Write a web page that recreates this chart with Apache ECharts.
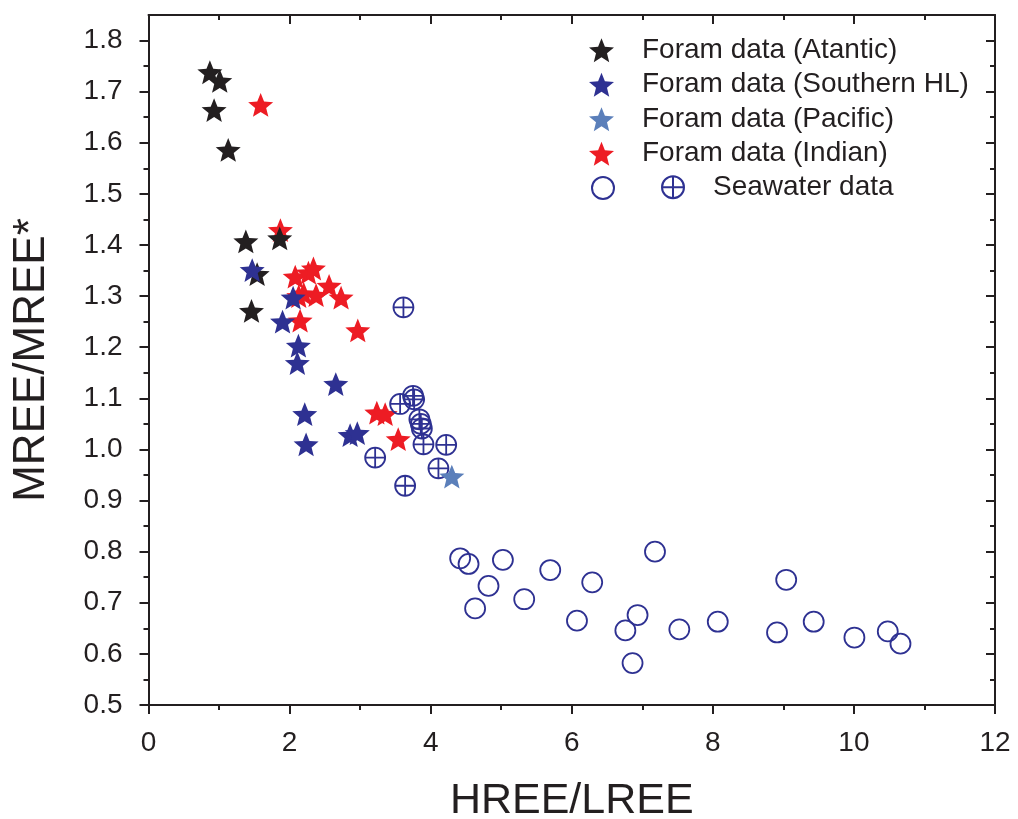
<!DOCTYPE html>
<html>
<head>
<meta charset="utf-8">
<script src="https://cdn.jsdelivr.net/npm/echarts@6/dist/echarts.min.js"></script>
<style>
html,body{margin:0;padding:0;background:#fff;overflow:hidden;}
#chart{width:1018px;height:819px;}
</style>
</head>
<body>
<div id="chart"></div>
<script>
// ---- data ----
const atlanticX = [0.87, 1.01, 0.93, 1.13, 1.38, 1.86, 1.54, 1.46];
const atlanticY = [1.738, 1.721, 1.664, 1.586, 1.407, 1.413, 1.343, 1.271];

const southernX = [1.47, 2.05, 1.90, 2.125, 2.11, 2.655, 2.215, 2.234, 2.858, 2.96];
const southernY = [1.351, 1.297, 1.250, 1.203, 1.169, 1.128, 1.069, 1.010, 1.028, 1.032];

const pacificX = [4.30];
const pacificY = [0.947];

const indianX = [1.59, 1.87, 2.08, 2.267, 2.338, 2.56, 2.73, 2.376, 2.13, 2.20, 2.149, 2.967, 3.237, 3.355, 3.54];
const indianY = [1.674, 1.429, 1.338, 1.346, 1.354, 1.320, 1.297, 1.302, 1.300, 1.305, 1.252, 1.233, 1.072, 1.069, 1.020];

const swCrossX = [3.614, 3.75, 3.766, 3.567, 3.84, 3.86, 3.875, 3.898, 4.22, 4.11, 3.213, 3.638];
const swCrossY = [1.278, 1.105, 1.098, 1.089, 1.059, 1.050, 1.041, 1.010, 1.009, 0.963, 0.984, 0.929];

const swOpenX = [4.418, 4.537, 5.024, 4.82, 4.63, 5.326, 5.695, 6.29, 6.074, 7.18, 6.933, 6.76, 6.862, 7.525, 8.07, 9.04, 8.91, 9.43, 10.007, 10.48, 10.66];
const swOpenY = [0.787, 0.776, 0.784, 0.733, 0.689, 0.707, 0.764, 0.740, 0.665, 0.800, 0.676, 0.646, 0.582, 0.648, 0.663, 0.745, 0.642, 0.663, 0.632, 0.644, 0.620];

const yMajorTicks = [0.5, 0.6, 0.7, 0.8, 0.9, 1.0, 1.1, 1.2, 1.3, 1.4, 1.5, 1.6, 1.7, 1.8];
const yMinorTicks = [0.55, 0.65, 0.75, 0.85, 0.95, 1.05, 1.15, 1.25, 1.35, 1.45, 1.55, 1.65, 1.75];

const names = {
  atl: 'Foram data (Atantic)',
  sou: 'Foram data (Southern HL)',
  pac: 'Foram data (Pacific)',
  ind: 'Foram data (Indian)',
  swOpen: 'Seawater open',
  swCross: 'Seawater data'
};

// ---- styling ----
const FONT = '"Liberation Sans", Arial, Helvetica, sans-serif';
const TXT = '#231f20';
const STAR = 'path://M50,0 L62.93,32.2 L97.55,34.55 L70.92,56.8 L79.39,90.45 L50,72 L20.61,90.45 L29.08,56.8 L2.45,34.55 L37.07,32.2 Z';
const CROSS = 'path://M0,10 A10,10 0 1,0 20,10 A10,10 0 1,0 0,10 Z M0,10 L20,10 M10,0 L10,20';
const C_ATL = '#231f20', C_SOU = '#2e3192', C_PAC = '#5b7fba', C_IND = '#ed1c24', C_SW = '#2e3192';

function zip(xs, ys) { return xs.map((x, i) => [x, ys[i]]); }

function starSeries(name, xs, ys, color) {
  return {
    type: 'scatter', name: name, data: zip(xs, ys),
    symbol: STAR, symbolSize: 25, symbolKeepAspect: true,
    itemStyle: { color: color, opacity: 1 },
    emphasis: { disabled: true }, silent: true
  };
}

const chart = echarts.init(document.getElementById('chart'), null, { renderer: 'canvas' });

const axisLineStyle = { color: TXT, width: 2 };
const legendText = (pad) => ({ fontSize: 28, color: TXT, fontFamily: FONT, lineHeight: 34.5, padding: [0, 0, 0, pad] });

const option = {
  animation: false,
  backgroundColor: '#fff',
  textStyle: { fontFamily: FONT, color: TXT },
  grid: { left: 148.5, right: 23, top: 15, bottom: 114, containLabel: false, outerBoundsMode: 'none' },
  xAxis: [
    {
      type: 'value', position: 'bottom', min: 0, max: 12, interval: 2,
      name: 'HREE/LREE', nameLocation: 'middle', nameGap: 75,
      nameTextStyle: { fontSize: 43, color: TXT, fontFamily: FONT },
      axisLine: { show: true, onZero: false, lineStyle: axisLineStyle },
      axisTick: { show: true, inside: false, length: 9, lineStyle: { color: TXT, width: 2 } },
      minorTick: { show: true, splitNumber: 2, length: 5, lineStyle: { color: TXT, width: 2 } },
      axisLabel: { show: true, fontSize: 28, color: TXT, fontFamily: FONT, margin: 24 },
      splitLine: { show: false }
    },
    {
      type: 'value', position: 'top', min: 0, max: 12, interval: 2,
      axisLine: { show: true, onZero: false, lineStyle: axisLineStyle },
      axisTick: { show: true, inside: true, length: 9, lineStyle: { color: TXT, width: 2 } },
      minorTick: { show: true, splitNumber: 2, length: 5, lineStyle: { color: TXT, width: 2 } },
      axisLabel: { show: false },
      splitLine: { show: false }
    }
  ],
  yAxis: [
    {
      type: 'value', position: 'left', min: 0.5, max: 1.85,
      name: 'MREE/MREE*', nameLocation: 'middle', nameGap: 95,
      nameTextStyle: { fontSize: 44, color: TXT, fontFamily: FONT },
      axisLine: { show: true, onZero: false, lineStyle: axisLineStyle },
      axisTick: { show: true, inside: false, length: 9, customValues: yMajorTicks, lineStyle: { color: TXT, width: 2 } },
      axisLabel: { show: true, fontSize: 28, color: TXT, fontFamily: FONT, margin: 26,
        customValues: yMajorTicks, formatter: v => v.toFixed(1) },
      splitLine: { show: false }
    },
    {
      type: 'value', position: 'left', min: 0.5, max: 1.85,
      axisLine: { show: false, onZero: false },
      axisTick: { show: true, inside: false, length: 5, customValues: yMinorTicks, lineStyle: { color: TXT, width: 2 } },
      axisLabel: { show: false },
      splitLine: { show: false }
    },
    {
      type: 'value', position: 'right', min: 0.5, max: 1.85,
      axisLine: { show: true, onZero: false, lineStyle: axisLineStyle },
      axisTick: { show: true, inside: true, length: 9, customValues: yMajorTicks, lineStyle: { color: TXT, width: 2 } },
      axisLabel: { show: false },
      splitLine: { show: false }
    },
    {
      type: 'value', position: 'right', min: 0.5, max: 1.85,
      axisLine: { show: false, onZero: false },
      axisTick: { show: true, inside: true, length: 5, customValues: yMinorTicks, lineStyle: { color: TXT, width: 2 } },
      axisLabel: { show: false },
      splitLine: { show: false }
    }
  ],
  legend: [
    {
      orient: 'vertical', left: 584, top: 28, itemGap: 0, padding: 5,
      itemWidth: 25, itemHeight: 24, itemStyle: { opacity: 1 },
      textStyle: legendText(23),
      data: [names.atl, names.sou, names.pac, names.ind],
      selectedMode: false
    },
    {
      orient: 'vertical', left: 586, top: 171, itemGap: 0, padding: 5,
      itemWidth: 22, itemHeight: 22,
      textStyle: legendText(0),
      formatter: () => '',
      data: [names.swOpen],
      selectedMode: false
    },
    {
      orient: 'vertical', left: 656, top: 165, itemGap: 0, padding: 5,
      itemWidth: 22, itemHeight: 22,
      textStyle: legendText(24),
      data: [names.swCross],
      selectedMode: false
    }
  ],
  series: [
    starSeries(names.ind, indianX, indianY, C_IND),
    starSeries(names.atl, atlanticX, atlanticY, C_ATL),
    starSeries(names.sou, southernX, southernY, C_SOU),
    {
      type: 'scatter', name: names.swOpen, data: zip(swOpenX, swOpenY),
      symbol: 'circle', symbolSize: 20,
      itemStyle: { color: 'rgba(255,255,255,0)', borderColor: C_SW, borderWidth: 1.8, opacity: 1 },
      emphasis: { disabled: true }, silent: true
    },
    {
      type: 'scatter', name: names.swCross, data: zip(swCrossX, swCrossY),
      symbol: CROSS, symbolSize: 20,
      itemStyle: { color: 'rgba(255,255,255,0)', borderColor: C_SW, borderWidth: 1.8, opacity: 1 },
      emphasis: { disabled: true }, silent: true
    },
    starSeries(names.pac, pacificX, pacificY, C_PAC)
  ]
};

chart.setOption(option);
</script>
</body>
</html>
